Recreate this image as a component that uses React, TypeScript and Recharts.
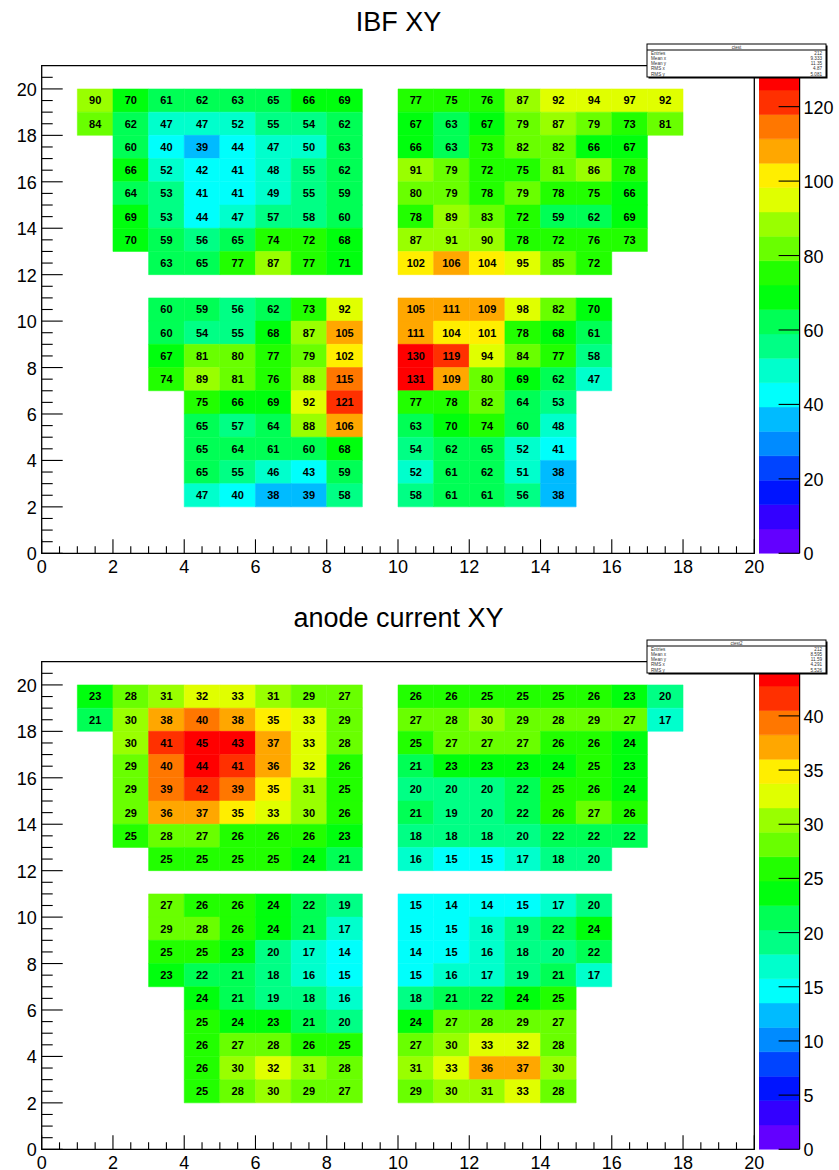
import React from 'react';
import { ComposedChart, XAxis, YAxis, ReferenceArea } from 'recharts';

const FONT = '"Liberation Sans", Arial, Helvetica, sans-serif';

// ROOT "pretty" palette, 20 contour levels (violet -> red)
const PALETTE = [
  '#6300ff', '#3300ff', '#0014ff', '#0044ff', '#008bff',
  '#00bbff', '#00fffc', '#00ffcc', '#00ff85', '#00ff55',
  '#00ff0e', '#22ff00', '#69ff00', '#99ff00', '#e0ff00',
  '#ffee00', '#ffa700', '#ff7700', '#ff3000', '#ff0000',
];
const NLEVELS = 20;

// lower edge (y) of every row of cells, top to bottom
const ROW_Y = [19, 18, 17, 16, 15, 14, 13, 12, 10, 9, 8, 7, 6, 5, 4, 3, 2];
// first x bin of the left half of each row (left half always ends at x=9)
const LEFT_X0 = [1, 1, 2, 2, 2, 2, 2, 3, 3, 3, 3, 3, 4, 4, 4, 4, 4];
// right half always starts at x=10
const RIGHT_X0 = 10;

const IBF_LEFT = [
  [90, 70, 61, 62, 63, 65, 66, 69],
  [84, 62, 47, 47, 52, 55, 54, 62],
  [60, 40, 39, 44, 47, 50, 63],
  [66, 52, 42, 41, 48, 55, 62],
  [64, 53, 41, 41, 49, 55, 59],
  [69, 53, 44, 47, 57, 58, 60],
  [70, 59, 56, 65, 74, 72, 68],
  [63, 65, 77, 87, 77, 71],
  [60, 59, 56, 62, 73, 92],
  [60, 54, 55, 68, 87, 105],
  [67, 81, 80, 77, 79, 102],
  [74, 89, 81, 76, 88, 115],
  [75, 66, 69, 92, 121],
  [65, 57, 64, 88, 106],
  [65, 64, 61, 60, 68],
  [65, 55, 46, 43, 59],
  [47, 40, 38, 39, 58],
];
const IBF_RIGHT = [
  [77, 75, 76, 87, 92, 94, 97, 92],
  [67, 63, 67, 79, 87, 79, 73, 81],
  [66, 63, 73, 82, 82, 66, 67],
  [91, 79, 72, 75, 81, 86, 78],
  [80, 79, 78, 79, 78, 75, 66],
  [78, 89, 83, 72, 59, 62, 69],
  [87, 91, 90, 78, 72, 76, 73],
  [102, 106, 104, 95, 85, 72],
  [105, 111, 109, 98, 82, 70],
  [111, 104, 101, 78, 68, 61],
  [130, 119, 94, 84, 77, 58],
  [131, 109, 80, 69, 62, 47],
  [77, 78, 82, 64, 53],
  [63, 70, 74, 60, 48],
  [54, 62, 65, 52, 41],
  [52, 61, 62, 51, 38],
  [58, 61, 61, 56, 38],
];

const ANODE_LEFT = [
  [23, 28, 31, 32, 33, 31, 29, 27],
  [21, 30, 38, 40, 38, 35, 33, 29],
  [30, 41, 45, 43, 37, 33, 28],
  [29, 40, 44, 41, 36, 32, 26],
  [29, 39, 42, 39, 35, 31, 25],
  [29, 36, 37, 35, 33, 30, 26],
  [25, 28, 27, 26, 26, 26, 23],
  [25, 25, 25, 25, 24, 21],
  [27, 26, 26, 24, 22, 19],
  [29, 28, 26, 24, 21, 17],
  [25, 25, 23, 20, 17, 14],
  [23, 22, 21, 18, 16, 15],
  [24, 21, 19, 18, 16],
  [25, 24, 23, 21, 20],
  [26, 27, 28, 26, 25],
  [26, 30, 32, 31, 28],
  [25, 28, 30, 29, 27],
];
const ANODE_RIGHT = [
  [26, 26, 25, 25, 25, 26, 23, 20],
  [27, 28, 30, 29, 28, 29, 27, 17],
  [25, 27, 27, 27, 26, 26, 24],
  [21, 23, 23, 23, 24, 25, 23],
  [20, 20, 20, 22, 25, 26, 24],
  [21, 19, 20, 22, 26, 27, 26],
  [18, 18, 18, 20, 22, 22, 22],
  [16, 15, 15, 17, 18, 20],
  [15, 14, 14, 15, 17, 20],
  [15, 15, 16, 19, 22, 24],
  [14, 15, 16, 18, 20, 22],
  [15, 16, 17, 19, 21, 17],
  [18, 21, 22, 24, 25],
  [24, 27, 28, 29, 27],
  [27, 30, 33, 32, 28],
  [31, 33, 36, 37, 30],
  [29, 30, 31, 33, 28],
];

const X_TICKS = [0, 0.5, 1, 1.5, 2, 2.5, 3, 3.5, 4, 4.5, 5, 5.5, 6, 6.5, 7, 7.5, 8, 8.5, 9, 9.5, 10,
  10.5, 11, 11.5, 12, 12.5, 13, 13.5, 14, 14.5, 15, 15.5, 16, 16.5, 17, 17.5, 18, 18.5, 19, 19.5, 20];
const Y_TICKS = [0, 0.5, 1, 1.5, 2, 2.5, 3, 3.5, 4, 4.5, 5, 5.5, 6, 6.5, 7, 7.5, 8, 8.5, 9, 9.5, 10,
  10.5, 11, 11.5, 12, 12.5, 13, 13.5, 14, 14.5, 15, 15.5, 16, 16.5, 17, 17.5, 18, 18.5, 19, 19.5, 20, 20.5];

const IBF_ZMAX = 131;
const IBF_ZTICKS = [0, 20, 40, 60, 80, 100, 120];
const ANODE_ZMAX = 45;
const ANODE_ZTICKS = [0, 5, 10, 15, 20, 25, 30, 35, 40];

const IBF_STATS = [['Entries', '212'], ['Mean x', '9.333'], ['Mean y', '11.35'], ['RMS x', '4.87'], ['RMS y', '5.081']];
const ANODE_STATS = [['Entries', '212'], ['Mean x', '8.595'], ['Mean y', '11.59'], ['RMS x', '4.291'], ['RMS y', '5.526']];

type Cell = { x: number; y: number; v: number };

function buildCells(left: number[][], right: number[][]): Cell[] {
  const cells: Cell[] = [];
  ROW_Y.forEach((y, r) => {
    left[r].forEach((v, i) => cells.push({ x: LEFT_X0[r] + i, y, v }));
    right[r].forEach((v, i) => cells.push({ x: RIGHT_X0 + i, y, v }));
  });
  return cells;
}

function levelColor(v: number, zmax: number) {
  const k = Math.min(NLEVELS - 1, Math.floor(0.01 + (v * NLEVELS) / zmax));
  return PALETTE[k];
}

const isMajor = (v: number) => Math.abs(v / 2 - Math.round(v / 2)) < 1e-6;

function XTick(props: any) {
  const { x, y, payload } = props;
  const v = payload.value;
  const major = isMajor(v);
  return (
    <g>
      <line x1={x} x2={x} y1={y} y2={y - (major ? 14 : 7)} stroke="#000" strokeWidth={1.1} />
      {major && (
        <text x={x} y={y + 20} textAnchor="middle" fontSize={18} fontFamily={FONT} fill="#000">{v}</text>
      )}
    </g>
  );
}

function YTick(props: any) {
  const { x, y, payload } = props;
  const v = payload.value;
  const major = isMajor(v);
  return (
    <g>
      <line x1={x} x2={x + (major ? 21 : 11)} y1={y} y2={y} stroke="#000" strokeWidth={1.1} />
      {major && (
        <text x={x - 5} y={y + 7} textAnchor="end" fontSize={18} fontFamily={FONT} fill="#000">{v}</text>
      )}
    </g>
  );
}

function ZTick(props: any) {
  const { x, y, payload } = props;
  return (
    <g>
      <line x1={x - 21} x2={x} y1={y} y2={y} stroke="#000" strokeWidth={1.1} />
      <text x={x + 4} y={y + 7} textAnchor="start" fontSize={18} fontFamily={FONT} fill="#000">{payload.value}</text>
    </g>
  );
}

function StatsBox({ name, rows }: { name: string; rows: string[][] }) {
  return (
    <svg style={{ position: 'absolute', left: 646, top: 43 }} width={183} height={37}>
      <rect x={2.5} y={2.5} width={179} height={33} fill="#000" />
      <rect x={1} y={1} width={179} height={33} fill="#fff" stroke="#000" strokeWidth={1} />
      <line x1={1} x2={180} y1={7} y2={7} stroke="#000" strokeWidth={1} />
      <text x={90.5} y={5.6} textAnchor="middle" fontSize={4.5} fontFamily={FONT} fill="#333">{name}</text>
      {rows.map((r, i) => (
        <g key={r[0]}>
          <text x={5} y={11.5 + i * 5.3} fontSize={4.6} fontFamily={FONT} fill="#333">{r[0]}</text>
          <text x={176} y={11.5 + i * 5.3} textAnchor="end" fontSize={4.6} fontFamily={FONT} fill="#333">{r[1]}</text>
        </g>
      ))}
    </svg>
  );
}

function Panel(props: {
  top: number; title: string; cells: Cell[]; zmax: number; zTicks: number[];
  statsName: string; stats: string[][];
}) {
  const { top, title, cells, zmax, zTicks, statsName, stats } = props;
  const bands = PALETTE.map((c, i) => ({ c, x: 0.5, lo: (i * zmax) / NLEVELS, hi: ((i + 1) * zmax) / NLEVELS }));
  return (
    <div style={{ position: 'absolute', left: 0, top, width: 839, height: 585 }}>
      <div style={{ position: 'absolute', left: 0, width: 797, top: 7, textAlign: 'center', fontFamily: FONT, fontSize: 27, lineHeight: '31px', color: '#000' }}>
        {title}
      </div>
      <div style={{ position: 'absolute', left: 0, top: 0 }}>
        <ComposedChart width={839} height={585} data={cells} margin={{ top: 65.7, right: 84.7, bottom: 0, left: 0 }}>
          <XAxis type="number" dataKey="x" domain={[0, 20]} allowDataOverflow ticks={X_TICKS} interval={0}
            tick={<XTick />} tickLine={false} axisLine={false} tickSize={0} tickMargin={0} height={31.7} />
          <YAxis type="number" dataKey="y" domain={[0, 21]} allowDataOverflow ticks={Y_TICKS} interval={0}
            tick={<YTick />} tickLine={false} axisLine={false} tickSize={0} tickMargin={0} width={41.7} />
          {cells.map((c) => (
            <ReferenceArea
              key={`${c.x}-${c.y}`}
              x1={c.x}
              x2={c.x + 1}
              y1={c.y}
              y2={c.y + 1}
              fill={levelColor(c.v, zmax)}
              fillOpacity={1}
              stroke={levelColor(c.v, zmax)}
              strokeWidth={0.5}
              label={{ value: String(c.v), position: 'center', fill: '#000', fontSize: 11, fontWeight: 'bold', fontFamily: FONT }}
            />
          ))}
          <ReferenceArea x1={0} x2={20} y1={0} y2={21} fill="none" fillOpacity={0} stroke="#000" strokeWidth={1.3} />
        </ComposedChart>
      </div>
      <div style={{ position: 'absolute', left: 758.7, top: 0 }}>
        <ComposedChart width={80.3} height={585} data={bands} margin={{ top: 65.7, right: 0, bottom: 31.7, left: 0 }}>
          <XAxis type="number" dataKey="x" domain={[0, 1]} allowDataOverflow hide />
          <YAxis type="number" dataKey="hi" orientation="right" domain={[0, zmax]} allowDataOverflow ticks={zTicks} interval={0}
            tick={<ZTick />} tickLine={false} tickSize={0} tickMargin={0} width={39.7}
            axisLine={{ stroke: '#000', strokeWidth: 1.2 }} />
          {bands.map((b) => (
            <ReferenceArea key={b.lo} x1={0} x2={1} y1={b.lo} y2={b.hi} fill={b.c} fillOpacity={1} stroke={b.c} strokeWidth={0.5} />
          ))}
        </ComposedChart>
      </div>
      <StatsBox name={statsName} rows={stats} />
    </div>
  );
}

export default function App() {
  const ibf = buildCells(IBF_LEFT, IBF_RIGHT);
  const anode = buildCells(ANODE_LEFT, ANODE_RIGHT);
  return (
    <div style={{ position: 'absolute', left: 0, top: 0, width: 839, height: 1170, background: '#fff', overflow: 'hidden' }}>
      <Panel top={0} title="IBF XY" cells={ibf} zmax={IBF_ZMAX} zTicks={IBF_ZTICKS} statsName="ctest" stats={IBF_STATS} />
      <Panel top={596.3} title="anode current XY" cells={anode} zmax={ANODE_ZMAX} zTicks={ANODE_ZTICKS} statsName="ctest2" stats={ANODE_STATS} />
    </div>
  );
}
